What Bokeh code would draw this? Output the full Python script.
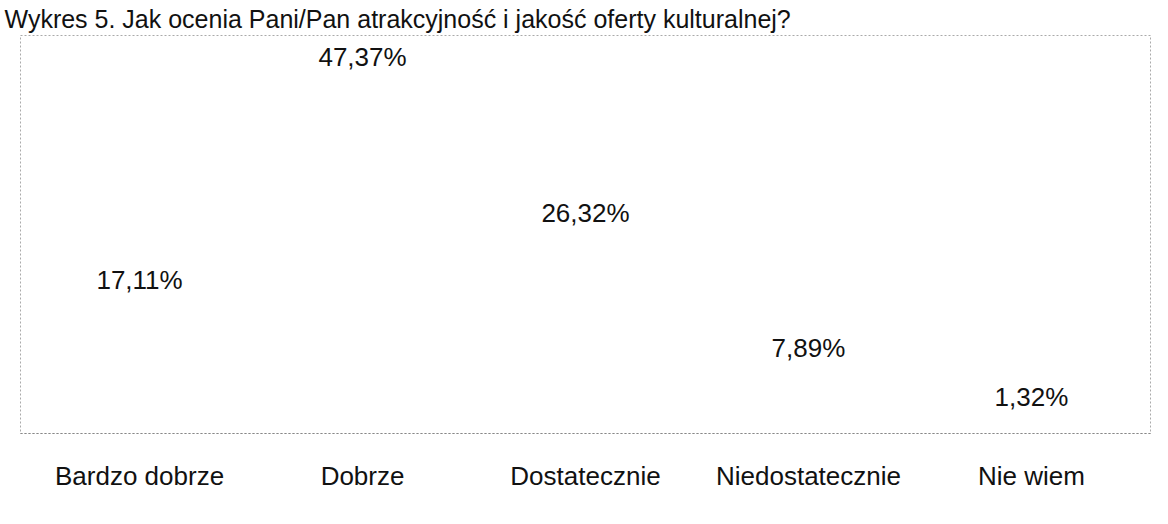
from bokeh.plotting import figure
from bokeh.models import FactorRange, Range1d, ColumnDataSource
from bokeh.core.properties import value
from bokeh.embed import file_html
from bokeh.resources import INLINE

categories = ["Bardzo dobrze", "Dobrze", "Dostatecznie", "Niedostatecznie", "Nie wiem"]
percents = [17.11, 47.37, 26.32, 7.89, 1.32]
labels = ["17,11%", "47,37%", "26,32%", "7,89%", "1,32%"]

FONT = "Liberation Sans"

src = ColumnDataSource(dict(cat=categories, val=percents, lab=labels))

p = figure(
    width=1152, height=508,
    x_range=FactorRange(*categories, range_padding=0.0136, range_padding_units="percent"),
    y_range=Range1d(0, 54.0),
    output_backend="svg", toolbar_location=None,
    min_border_left=20, min_border_right=2, min_border_top=0, min_border_bottom=75,
    title="Wykres 5. Jak ocenia Pani/Pan atrakcyjność i jakość oferty kulturalnej?",
)
p.title.text_font = FONT
p.title.text_font_size = "25px"
p.title.text_font_style = "normal"
p.title.text_color = "#111111"
p.title.standoff = 5
p.title.offset = -16

# bars (printed so faintly they are invisible in the scan)
p.vbar(x="cat", top="val", width=0.6, source=src, fill_color="white", line_color=None)

p.text(x="cat", y="val", text="lab", source=src,
       text_font=value(FONT), text_font_size="26px", text_color="#111111",
       text_align="center", text_baseline="bottom", y_offset=-12)

p.yaxis.visible = False
p.xgrid.grid_line_color = None
p.ygrid.grid_line_color = None

ax = p.xaxis[0]
ax.axis_line_color = "#888888"
ax.axis_line_dash = "2 2"
ax.major_tick_line_color = None
ax.minor_tick_line_color = None
ax.major_label_text_font = FONT
ax.major_label_text_font_size = "26px"
ax.major_label_text_color = "#111111"
ax.major_label_standoff = 21

p.outline_line_color = "#aaaaaa"
p.outline_line_dash = "2 2"
p.outline_line_width = 1

open("out.html", "w").write(file_html(p, INLINE))
